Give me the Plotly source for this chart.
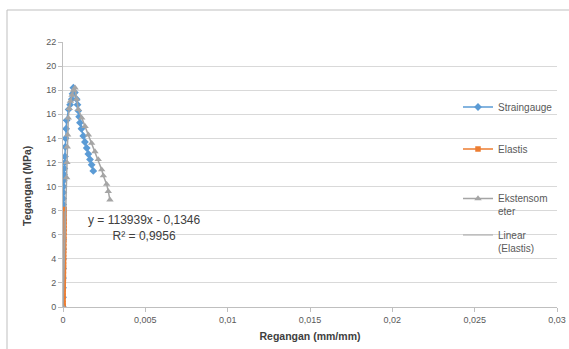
import plotly.graph_objects as go

# ---------------- data ----------------
straingauge_x = [0, 0.000002, 0.000003, 0.000004, 0.000005, 0.000006, 0.000007, 0.000008,
                 0.000009, 0.00001, 0.00001, 0.000012, 0.000015, 0.00002, 0.00003, 0.00004,
                 0.00006, 0.00008, 0.0001, 0.00012, 0.00014, 0.00016, 0.00019, 0.00022,
                 0.00034, 0.00043, 0.00053, 0.00058, 0.00063, 0.00072, 0.00083, 0.00088,
                 0.00093, 0.00098, 0.00103, 0.00112, 0.00123, 0.00133, 0.00144, 0.00154,
                 0.00164, 0.00174, 0.00184]
straingauge_y = [0, 0.8, 1.6, 2.4, 3.2, 4.0, 4.8, 5.6,
                 6.4, 7.2, 8.0, 8.5, 9.0, 9.5, 10.0, 10.5,
                 11.0, 11.5, 12.0, 12.5, 13.3, 14.0, 14.8, 15.5,
                 16.4, 16.8, 17.25, 17.7, 18.2, 17.8, 17.25, 16.8,
                 16.3, 15.8, 15.3, 14.8, 14.2, 13.7, 13.2, 12.7,
                 12.25, 11.8, 11.3]

elastis_x = [0, 0.000002, 0.000004, 0.000006, 0.000009, 0.000011, 0.000014, 0.000016,
             0.000019, 0.000022, 0.000024, 0.000027, 0.000029, 0.000032, 0.000034, 0.000037,
             0.00004, 0.000042, 0.000045, 0.000047, 0.00005, 0.000053, 0.000055, 0.000058,
             0.000061, 0.000063, 0.000066, 0.000068, 0.000071]
elastis_y = [0, 0.1, 0.3, 0.6, 0.9, 1.2, 1.5, 1.8,
             2.1, 2.4, 2.7, 3.0, 3.3, 3.5, 3.8, 4.1,
             4.4, 4.7, 5.0, 5.3, 5.6, 5.9, 6.2, 6.5,
             6.8, 7.1, 7.4, 7.8, 8.1]

ekstensometer_x = [0, 0.00022, 0.00024, 0.00026, 0.00028, 0.00032, 0.00038, 0.00045,
                   0.00055, 0.00065, 0.00073, 0.00083, 0.00093, 0.00114, 0.00134, 0.00154,
                   0.00174, 0.00194, 0.00214, 0.00235, 0.00245, 0.00265, 0.00275, 0.00285]
ekstensometer_y = [0, 10.75, 12.0, 13.3, 14.3, 15.7, 16.5, 17.1,
                   17.6, 18.0, 18.2, 17.25, 16.4, 15.7, 15.0, 14.3,
                   13.6, 12.9, 12.25, 11.4, 10.9, 10.2, 9.6, 8.9]

trend_slope = 113939
trend_intercept = -0.1346
trend_r2 = "0,9956"

x_ticks = [0, 0.005, 0.01, 0.015, 0.02, 0.025, 0.03]
y_ticks = [0, 2, 4, 6, 8, 10, 12, 14, 16, 18, 20, 22]

# --------------- styling ---------------
BLUE = "#5b9bd5"
ORANGE = "#ed7d31"
GRAY = "#a5a5a5"
TEXT = "#595959"
FONT = "Liberation Sans"

trend_x = [min(elastis_x), max(elastis_x)]
trend_y = [trend_slope * v + trend_intercept for v in trend_x]

fig = go.Figure()
fig.add_trace(go.Scatter(
    x=straingauge_x, y=straingauge_y, name="Straingauge", mode="lines+markers",
    line=dict(color=BLUE, width=1.5), marker=dict(symbol="diamond", size=6, color=BLUE),
    legend="legend"))
fig.add_trace(go.Scatter(
    x=elastis_x, y=elastis_y, name="Elastis", mode="lines+markers",
    line=dict(color=ORANGE, width=1.5), marker=dict(symbol="square", size=5.5, color=ORANGE),
    legend="legend2"))
fig.add_trace(go.Scatter(
    x=ekstensometer_x, y=ekstensometer_y, name="Ekstensom<br>eter", mode="lines+markers",
    line=dict(color=GRAY, width=1.5), marker=dict(symbol="triangle-up", size=6.5, color=GRAY),
    legend="legend3"))
fig.add_trace(go.Scatter(
    x=trend_x, y=trend_y, name="Linear<br>(Elastis)", mode="lines",
    line=dict(color=GRAY, width=1), legend="legend4"))

H0, H1 = 42, 307  # plot-area pixel top / bottom
W0, W1 = 63, 557


def py(p):
    return (H1 - p) / (H1 - H0)


def px(p):
    return (p - W0) / (W1 - W0)


leg_common = dict(bgcolor="rgba(0,0,0,0)", font=dict(family=FONT, size=10, color=TEXT),
                  xanchor="left", yanchor="middle", x=px(458), itemwidth=30)
fig.update_layout(
    legend=dict(y=py(107), **leg_common),
    legend2=dict(y=py(149), **leg_common),
    legend3=dict(y=py(205), valign="top", **leg_common),
    legend4=dict(y=py(241.5), valign="top", **leg_common),
)

fig.update_xaxes(
    range=[0, 0.03], tickvals=x_ticks, ticks="outside", ticklen=4, tickcolor="#bfbfbf",
    showgrid=False, showline=True, linecolor="#bfbfbf", linewidth=1, zeroline=False,
    tickfont=dict(family=FONT, size=9, color=TEXT),
    title=dict(text="<b>Regangan (mm/mm)</b>", font=dict(family=FONT, size=10.5, color="#404040"),
               standoff=8))
fig.update_yaxes(
    range=[0, 22], tickvals=y_ticks, ticks="outside", ticklen=4, tickcolor="#bfbfbf",
    showgrid=True, gridcolor="#d9d9d9", gridwidth=1, showline=True, linecolor="#bfbfbf",
    zeroline=False, tickfont=dict(family=FONT, size=9, color=TEXT))

fig.add_annotation(
    text="<b>Tegangan (MPa)</b>", textangle=-90, xref="paper", yref="paper",
    x=px(27), y=py(186), showarrow=False, xanchor="center", yanchor="middle",
    font=dict(family=FONT, size=10.5, color="#404040"))

fig.add_annotation(
    text=f"y = {trend_slope}x - 0,1346<br>R² = {trend_r2}", align="center",
    xref="paper", yref="paper", x=px(144), y=py(228), showarrow=False,
    xanchor="center", yanchor="middle", font=dict(family=FONT, size=12, color="#404040"))

fig.add_shape(type="rect", xref="paper", yref="paper",
              x0=px(7), x1=px(600), y0=py(400), y1=py(10),
              line=dict(color="#bfbfbf", width=1), fillcolor="rgba(0,0,0,0)", layer="below")

fig.update_layout(
    width=569, height=349,
    margin=dict(l=W0, r=569 - W1, t=H0, b=349 - H1, autoexpand=False),
    paper_bgcolor="white", plot_bgcolor="white", separators=",.",
    font=dict(family=FONT, color=TEXT), showlegend=True, hovermode=False)

fig.write_html("out.html")
